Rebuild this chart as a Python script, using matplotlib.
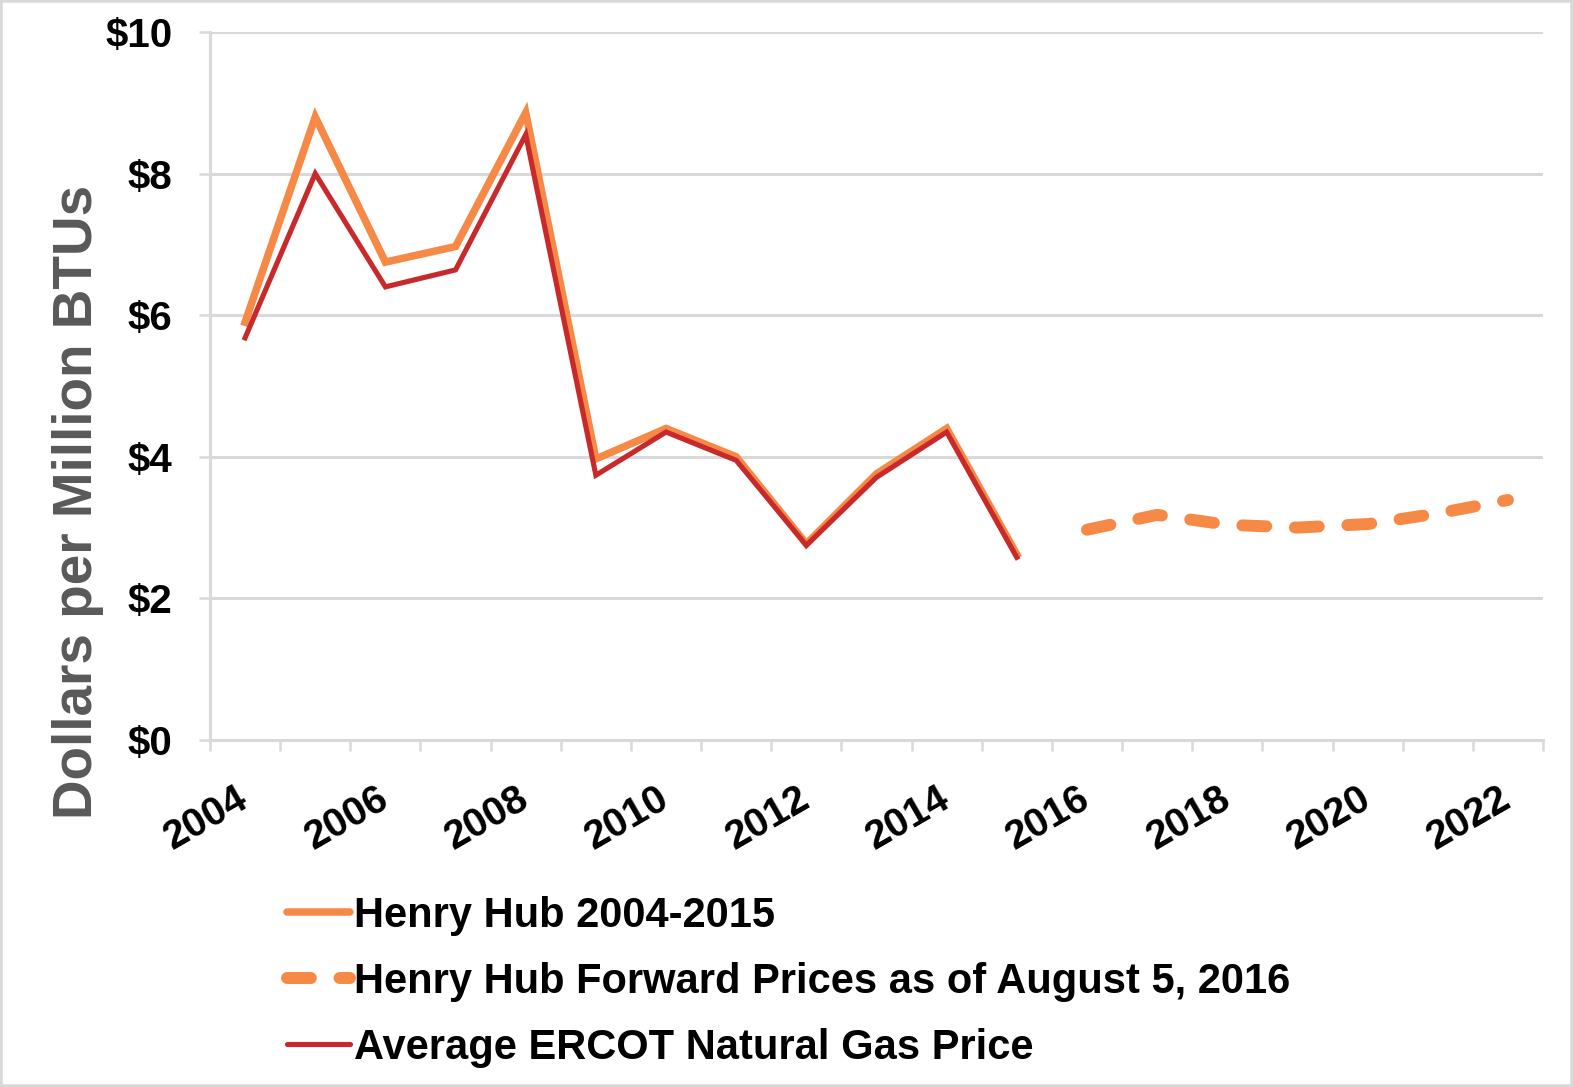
import matplotlib
matplotlib.use("Agg")
import matplotlib.pyplot as plt
import numpy as np
from matplotlib.lines import Line2D
from matplotlib.patches import Rectangle

plt.rcParams["font.family"] = ["Liberation Sans", "DejaVu Sans"]
plt.rcParams["font.weight"] = "bold"

# data (dollars per million BTUs)
YEARS = list(range(2004, 2023))
HENRY_HUB = [5.90, 8.80, 6.75, 6.97, 8.86, 3.97, 4.40, 4.00, 2.77, 3.76, 4.40, 2.62]
ERCOT = [5.68, 8.00, 6.40, 6.64, 8.55, 3.74, 4.35, 3.95, 2.75, 3.71, 4.35, 2.58]
FORWARD = [2.97, 3.18, 3.04, 3.00, 3.05, 3.20, 3.39]

LABELS = [
    "Henry Hub 2004-2015",
    "Henry Hub Forward Prices as of August 5, 2016",
    "Average ERCOT Natural Gas Price",
]

ORANGE = "#F58945"
RED = "#C8292B"
GRID = "#D9D9D9"

W, H = 1573, 1087
fig = plt.figure(figsize=(W / 100, H / 100), dpi=100)
ax = fig.add_axes([210 / W, 1 - 740 / H, 1333 / W, 708 / H])

x = np.arange(len(YEARS))
n_hist = len(HENRY_HUB)
ax.plot(x[:n_hist], HENRY_HUB, color=ORANGE, lw=5.4, solid_joinstyle="miter", zorder=3)
fwd, = ax.plot(x[n_hist:n_hist + len(FORWARD)], FORWARD, color=ORANGE, lw=8.6,
               dash_capstyle="round", solid_capstyle="round", zorder=3)
fwd.set_dashes([2.0, 2.4])
ax.plot(x[:n_hist], ERCOT, color=RED, lw=3.7, solid_joinstyle="miter", zorder=4)

ax.set_xlim(-0.5, len(YEARS) - 0.5)
ax.set_ylim(0, 10)

# y axis
ax.set_yticks(np.arange(0, 11, 2))
ax.set_yticklabels([f"${v}" for v in range(0, 11, 2)])
ax.tick_params(axis="y", length=8, width=1.8, color=GRID, pad=19, labelsize=29)
ax.grid(axis="y", color=GRID, lw=2.2, zorder=0)

# x axis: category ticks between years, labels every 2 years
ax.set_xticks(x[::2])
ax.set_xticklabels([str(y) for y in YEARS[::2]], rotation=30, ha="right",
                   va="center", rotation_mode="anchor")
ax.set_xticks(np.arange(-0.5, len(YEARS), 1), minor=True)
ax.tick_params(axis="x", which="major", length=0, pad=40, labelsize=29)
ax.tick_params(axis="x", which="minor", length=8, width=1.8, color=GRID)

for s in ["top", "right"]:
    ax.spines[s].set_visible(False)
for s in ["left", "bottom"]:
    ax.spines[s].set_color(GRID)
    ax.spines[s].set_linewidth(2.2)

fig.text(78 / W, 1 - 502 / H, "Dollars per Million BTUs", rotation=90,
         ha="center", va="center", fontsize=39.5, color="#595959")

handles = [
    Line2D([], [], color=ORANGE, lw=5.4, solid_capstyle="round"),
    Line2D([], [], color=ORANGE, lw=8.6, dashes=[2.0, 2.4], dash_capstyle="round"),
    Line2D([], [], color=RED, lw=3.7, solid_capstyle="round"),
]
fig.legend(handles, LABELS, loc="upper left", bbox_to_anchor=(287 / W, 1 - 896 / H),
           frameon=False, fontsize=30, handlelength=1.5, handletextpad=0.12,
           labelspacing=0.62, borderpad=0, borderaxespad=0)

fig.patches.append(Rectangle((0, 0), 1, 1, transform=fig.transFigure, fill=False,
                             edgecolor=GRID, lw=4))

fig.savefig("out.png", dpi=100)
